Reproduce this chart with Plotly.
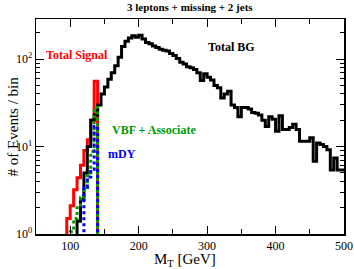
import plotly.graph_objects as go

BIN_W = 5

# Total background (black), 5 GeV bins starting at 110 GeV
bg_start = 110
bg_values = [
    1.4, 2.5, 5, 10, 20, 23, 30, 40,            # 110-145
    48, 59, 70, 84, 105, 140, 160, 175, 185, 178,  # 150-195
    188, 170, 155, 150, 142, 136, 130, 127, 124, 116,  # 200-245
    110, 102, 92, 88, 82, 80, 76, 70, 57, 68,   # 250-295
    62, 58, 50, 47, 36, 40, 43, 30, 28, 22,     # 300-345
    28, 28, 27, 24.5, 24, 23, 20, 17, 22, 20.5,  # 350-395
    15, 22.5, 15.7, 15.7, 16.5, 18, 15.7, 11.5, 11.5, 11.5,  # 400-445
    12.6, 6.8, 11, 10.6, 10, 9.2, 5.4, 7.4, 5.4, 5.4,  # 450-495
]

# Signals
sig_start = 95
total_signal = [1.5, 2.1, 3.2, 4.4, 6.1, 9, 12, 20, 56]       # 95-135
vbf_start = 100
vbf_assoc = [1.06, 1.5, 2.0, 2.6, 3.4, 5, 8.8, 28]            # 100-135
mdy_start = 120
mdy = [3.4, 4.5, 5.5, 17]                                      # 120-135

x_ticks = [100, 200, 300, 400, 500]
y_ticks = [1, 10, 100]
y_tick_text = ["10<sup>0</sup>", "10<sup>1</sup>", "10<sup>2</sup>"]

TINY = 1e-3


def step_xy(start, values, drop_end=True):
    edges = [start + i * BIN_W for i in range(len(values) + 1)]
    xs = [edges[0]] + edges
    ys = [TINY] + list(values) + [values[-1]]
    if drop_end:
        xs.append(edges[-1])
        ys.append(TINY)
    return xs, ys


fig = go.Figure()

x, y = step_xy(sig_start, total_signal)
fig.add_trace(go.Scatter(x=x, y=y, mode="lines", line=dict(color="#ff0000", width=3, shape="hv"),
                         name="Total Signal", showlegend=False, hoverinfo="skip"))
x, y = step_xy(bg_start, bg_values, drop_end=False)
fig.add_trace(go.Scatter(x=x, y=y, mode="lines", line=dict(color="black", width=3, shape="hv"),
                         name="Total BG", showlegend=False, hoverinfo="skip"))
x, y = step_xy(vbf_start, vbf_assoc)
fig.add_trace(go.Scatter(x=x, y=y, mode="lines", line=dict(color="#009a00", width=3, shape="hv", dash="dot"),
                         name="VBF + Associate", showlegend=False, hoverinfo="skip"))
x, y = step_xy(mdy_start, mdy)
fig.add_trace(go.Scatter(x=x, y=y, mode="lines", line=dict(color="#0000ff", width=3, shape="hv", dash="dot"),
                         name="mDY", showlegend=False, hoverinfo="skip"))

SERIF = "Liberation Serif, Times New Roman, serif"

annos = [
    dict(text="<b>Total Signal</b>", x=110, y=2.046, color="#ff0000"),
    dict(text="<b>Total BG</b>", x=335, y=2.138, color="black"),
    dict(text="<b>VBF + Associate</b>", x=222, y=1.195, color="#009a00"),
    dict(text="<b>mDY</b>", x=176, y=0.92, color="#0000ff"),
]
for a in annos:
    fig.add_annotation(text=a["text"], x=a["x"], y=a["y"], xref="x", yref="y", showarrow=False,
                       font=dict(family=SERIF, size=12, color=a["color"]))

# title and axis titles
fig.add_annotation(text="<b>3 leptons + missing + 2 jets</b>", xref="paper", yref="paper",
                   x=0.5, y=1.056, xanchor="center", yanchor="middle", showarrow=False,
                   font=dict(family=SERIF, size=11, color="black"))
fig.add_annotation(text="M<sub>T</sub> [GeV]", xref="paper", yref="paper",
                   x=0.484, y=-0.12, xanchor="center", yanchor="middle", showarrow=False,
                   font=dict(family=SERIF, size=15, color="black"))
fig.add_annotation(text="# of Events / bin", xref="paper", yref="paper", textangle=-90,
                   x=-0.075, y=0.50, xanchor="center", yanchor="middle", showarrow=False,
                   font=dict(family=SERIF, size=15, color="black"))

fig.update_layout(
    width=354, height=269,
    margin=dict(l=36, r=10, t=19, b=35),
    paper_bgcolor="white", plot_bgcolor="white",
    font=dict(family=SERIF, color="black"),
    showlegend=False,
    hovermode=False,
)
fig.update_xaxes(
    range=[50, 500], tickmode="array", tickvals=x_ticks, ticks="inside", ticklen=8, tickwidth=1,
    tickcolor="black", showline=True, linecolor="black", linewidth=1.5, mirror="ticks",
    showgrid=False, zeroline=False, automargin=False,
    tickfont=dict(family=SERIF, size=12, color="black"),
    minor=dict(tickmode="array", tickvals=[150, 250, 350, 450], ticks="inside", ticklen=5, tickcolor="black"),
)
minor_y = [m * 10 ** d for d in range(0, 3) for m in range(2, 10) if m * 10 ** d < 300]
fig.update_yaxes(
    type="log", range=[0, 2.46], tickmode="array", tickvals=y_ticks, ticktext=y_tick_text,
    ticks="inside", ticklen=8, tickwidth=1, tickcolor="black", showline=True, linecolor="black",
    linewidth=1.5, mirror="ticks", showgrid=False, zeroline=False, automargin=False,
    tickfont=dict(family=SERIF, size=12, color="black"),
    minor=dict(tickmode="array", tickvals=minor_y, ticks="inside", ticklen=4, tickcolor="black"),
)

fig.write_html("out.html", config={"displayModeBar": False, "staticPlot": True},
               post_script="document.body.style.margin='0';")
